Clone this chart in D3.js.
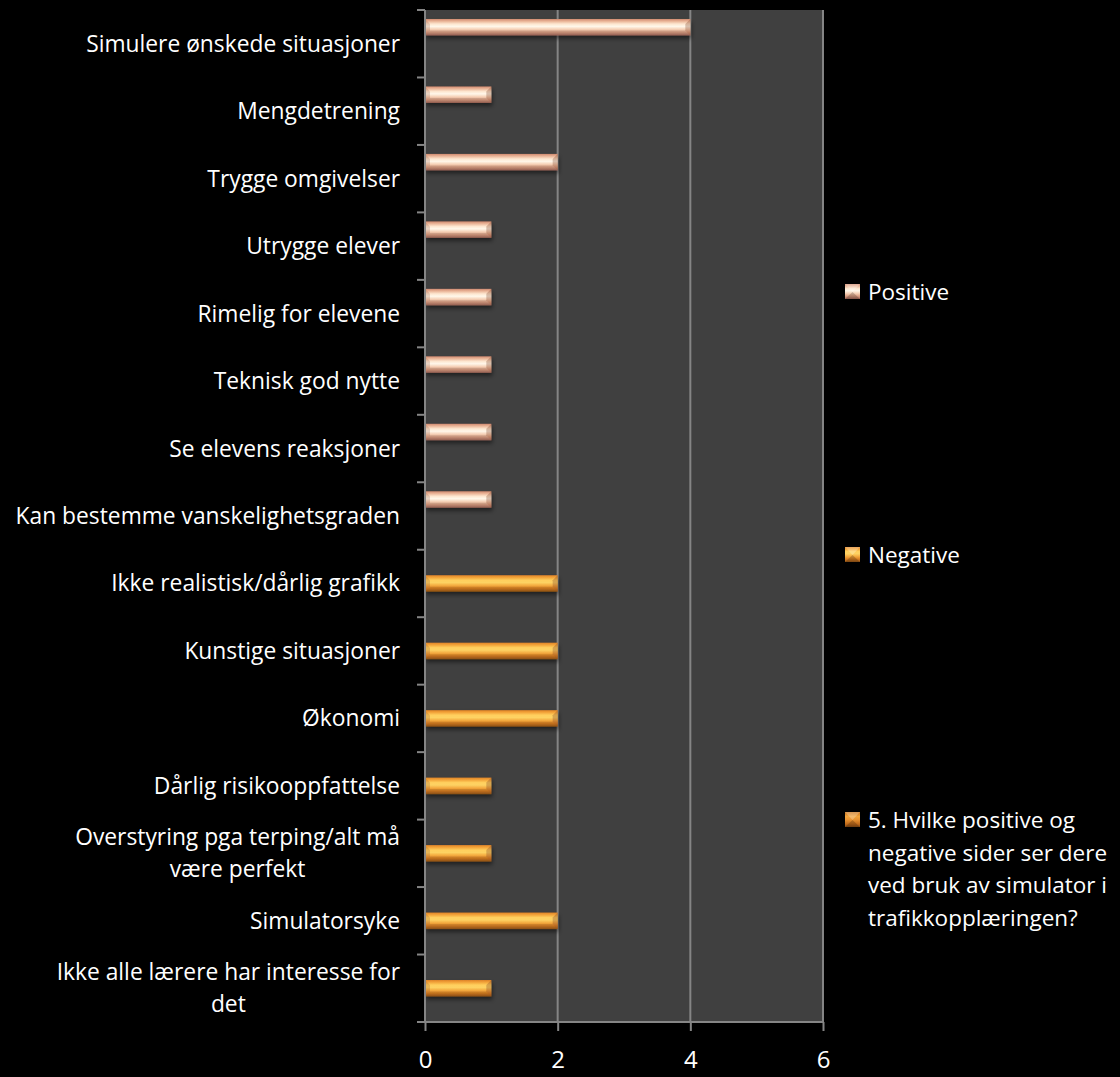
<!DOCTYPE html>
<html>
<head>
<meta charset="utf-8">
<script src="https://cdn.jsdelivr.net/npm/d3@7"></script>
<style>
  html, body { margin: 0; padding: 0; background: #000; }
  svg { display: block; }
  text { font-family: "Open Sans", "Noto Sans", sans-serif; fill: #fff; }
</style>
</head>
<body>
<svg id="chart" width="1120" height="1077"></svg>
<script>
// Categories from top to bottom; each label split into its drawn lines
const categories = [
  ["Simulere ønskede situasjoner"],
  ["Mengdetrening"],
  ["Trygge omgivelser"],
  ["Utrygge elever"],
  ["Rimelig for elevene"],
  ["Teknisk god nytte"],
  ["Se elevens reaksjoner"],
  ["Kan bestemme vanskelighetsgraden"],
  ["Ikke realistisk/dårlig grafikk"],
  ["Kunstige situasjoner"],
  ["Økonomi"],
  ["Dårlig risikooppfattelse"],
  ["Overstyring pga terping/alt må", "være perfekt"],
  ["Simulatorsyke"],
  ["Ikke alle lærere har interesse for", "det"]
];
const positive = [4, 1, 2, 1, 1, 1, 1, 1, 0, 0, 0, 0, 0, 0, 0];
const negative = [0, 0, 0, 0, 0, 0, 0, 0, 2, 2, 2, 1, 1, 2, 1];
const question = [0, 0, 0, 0, 0, 0, 0, 0, 0, 0, 0, 0, 0, 0, 0];
const seriesNames = ["Positive", "Negative",
  ["5. Hvilke positive og", "negative sider ser dere", "ved bruk av simulator i", "trafikkopplæringen?"]];
const xTicks = [0, 2, 4, 6];

const svg = d3.select("#chart");
const plot = { left: 425, right: 823, top: 10, bottom: 1022 };

const x = d3.scaleLinear().domain([0, 6]).range([plot.left, plot.right]);
const y = d3.scaleBand().domain(d3.range(categories.length)).range([plot.top, plot.bottom]);
const slot = d3.scaleBand().domain([0, 1, 2]).range([0, y.bandwidth()]).paddingInner(0).paddingOuter(0.545);

const defs = svg.append("defs");
// Bevelled bar fills: light core, darker rims
const palettes = [
  { id: "gPos", stops: [[0, "#d08a70"], [0.14, "#eab598"], [0.3, "#fde6cf"], [0.45, "#fff7ea"], [0.62, "#f6d2b8"], [0.8, "#dca084"], [1, "#a4685a"]] },
  { id: "gNeg", stops: [[0, "#e08428"], [0.14, "#f3a53a"], [0.3, "#ffcf5e"], [0.45, "#fdd263"], [0.62, "#f4ab40"], [0.8, "#d97f22"], [1, "#9a5818"]] },
  { id: "gQ", stops: [[0, "#c8741e"], [0.3, "#f2a43c"], [0.5, "#e99432"], [0.8, "#c06a1a"], [1, "#8a4c14"]] }
];
palettes.forEach(p => {
  const g = defs.append("linearGradient").attr("id", p.id)
    .attr("x1", 0).attr("y1", 0).attr("x2", 0).attr("y2", 1);
  p.stops.forEach(s => g.append("stop").attr("offset", s[0]).attr("stop-color", s[1]));
});
const shadow = defs.append("filter").attr("id", "shadow")
  .attr("x", "-5%").attr("y", "-30%").attr("width", "115%").attr("height", "190%");
shadow.append("feDropShadow").attr("dx", 1).attr("dy", 3).attr("stdDeviation", 2)
  .attr("flood-color", "#000").attr("flood-opacity", 0.5);

// Plot background
svg.append("rect")
  .attr("x", plot.left).attr("y", plot.top)
  .attr("width", plot.right - plot.left).attr("height", plot.bottom - plot.top)
  .attr("fill", "#404040");

// Vertical gridlines
svg.append("g").selectAll("line").data(xTicks.filter(d => d > 0)).join("line")
  .attr("x1", d => x(d)).attr("x2", d => x(d))
  .attr("y1", plot.top).attr("y2", plot.bottom)
  .attr("stroke", "#858585").attr("stroke-width", 2);

// Bars
function bevelBar(g, x0, x1, y0, h, fill) {
  const b = Math.min(5, (x1 - x0) / 2);
  const grp = g.append("g").attr("filter", "url(#shadow)");
  grp.append("rect").attr("x", x0).attr("y", y0).attr("width", x1 - x0).attr("height", h).attr("fill", fill);
  // end bevels
  grp.append("path")
    .attr("d", `M${x0},${y0}L${x0 + b},${y0 + b}L${x0 + b},${y0 + h - b}L${x0},${y0 + h}Z`)
    .attr("fill", "#7a3a20").attr("opacity", 0.18);
  grp.append("path")
    .attr("d", `M${x1},${y0}L${x1 - b},${y0 + b}L${x1 - b},${y0 + h - b}L${x1},${y0 + h}Z`)
    .attr("fill", "#7a3a20").attr("opacity", 0.3);
  grp.append("path")
    .attr("d", `M${x0},${y0 + h}L${x0 + b},${y0 + h - b}L${x1 - b},${y0 + h - b}L${x1},${y0 + h}Z`)
    .attr("fill", "#000").attr("opacity", 0.1);
}

const barLayer = svg.append("g");
[positive, negative, question].forEach((vals, s) => {
  const fill = `url(#${palettes[s].id})`;
  vals.forEach((v, i) => {
    if (v > 0) bevelBar(barLayer, x(0), x(v), y(i) + slot(s), slot.bandwidth(), fill);
  });
});

// Axes lines
svg.append("line").attr("x1", plot.left).attr("x2", plot.left)
  .attr("y1", plot.top).attr("y2", plot.bottom).attr("stroke", "#858585").attr("stroke-width", 2);
svg.append("line").attr("x1", plot.left - 8).attr("x2", plot.right)
  .attr("y1", plot.bottom).attr("y2", plot.bottom).attr("stroke", "#858585").attr("stroke-width", 2);

// Y tick marks at band boundaries
const yBounds = d3.range(categories.length).map(i => y(i));
svg.append("g").selectAll("line").data(yBounds).join("line")
  .attr("x1", plot.left - 8).attr("x2", plot.left)
  .attr("y1", d => d).attr("y2", d => d)
  .attr("stroke", "#858585").attr("stroke-width", 2);

// X axis ticks and labels
const xAxis = svg.append("g").attr("transform", `translate(0,${plot.bottom})`)
  .call(d3.axisBottom(x).tickValues(xTicks).tickSize(9).tickFormat(d3.format("d")));
xAxis.select(".domain").remove();
xAxis.selectAll(".tick line").attr("stroke", "#858585").attr("stroke-width", 2);
xAxis.selectAll(".tick text").attr("fill", "#fff").style("font-size", "24px")
  .style("font-family", "'Open Sans', sans-serif")
  .attr("y", 46).attr("dy", null);

// Category labels, lines centred on each other, right edge at 400
const labelSize = 22.8, lineH = 32;
const labels = svg.append("g");
categories.forEach((lines, i) => {
  const cy = y(i) + y.bandwidth() / 2;
  const g = labels.append("g");
  const texts = lines.map((ln, k) => g.append("text")
    .attr("y", cy + (k - (lines.length - 1) / 2) * lineH)
    .attr("dy", "0.35em")
    .style("font-size", labelSize + "px")
    .attr("text-anchor", "middle")
    .text(ln));
  const w = d3.max(texts, t => t.node().getComputedTextLength());
  texts.forEach(t => t.attr("x", 400 - w / 2));
});

// Legend
const legendY = [292, 555, 820];
const legend = svg.append("g");
seriesNames.forEach((name, s) => {
  const lines = Array.isArray(name) ? name : [name];
  const cy = legendY[s];
  legend.append("rect").attr("x", 845).attr("y", cy - 8).attr("width", 15).attr("height", 15)
    .attr("fill", `url(#${palettes[s].id})`);
  legend.append("path")
    .attr("d", `M845,${cy - 8}L852.5,${cy}L860,${cy - 8}Z`).attr("fill", "#fff").attr("opacity", 0.25);
  legend.append("path")
    .attr("d", `M845,${cy + 7}L852.5,${cy}L860,${cy + 7}Z`).attr("fill", "#000").attr("opacity", 0.2);
  lines.forEach((ln, k) => legend.append("text")
    .attr("x", 868).attr("y", cy + k * 32.7).attr("dy", "0.35em")
    .style("font-size", "22.5px").text(ln));
});
</script>
</body>
</html>
